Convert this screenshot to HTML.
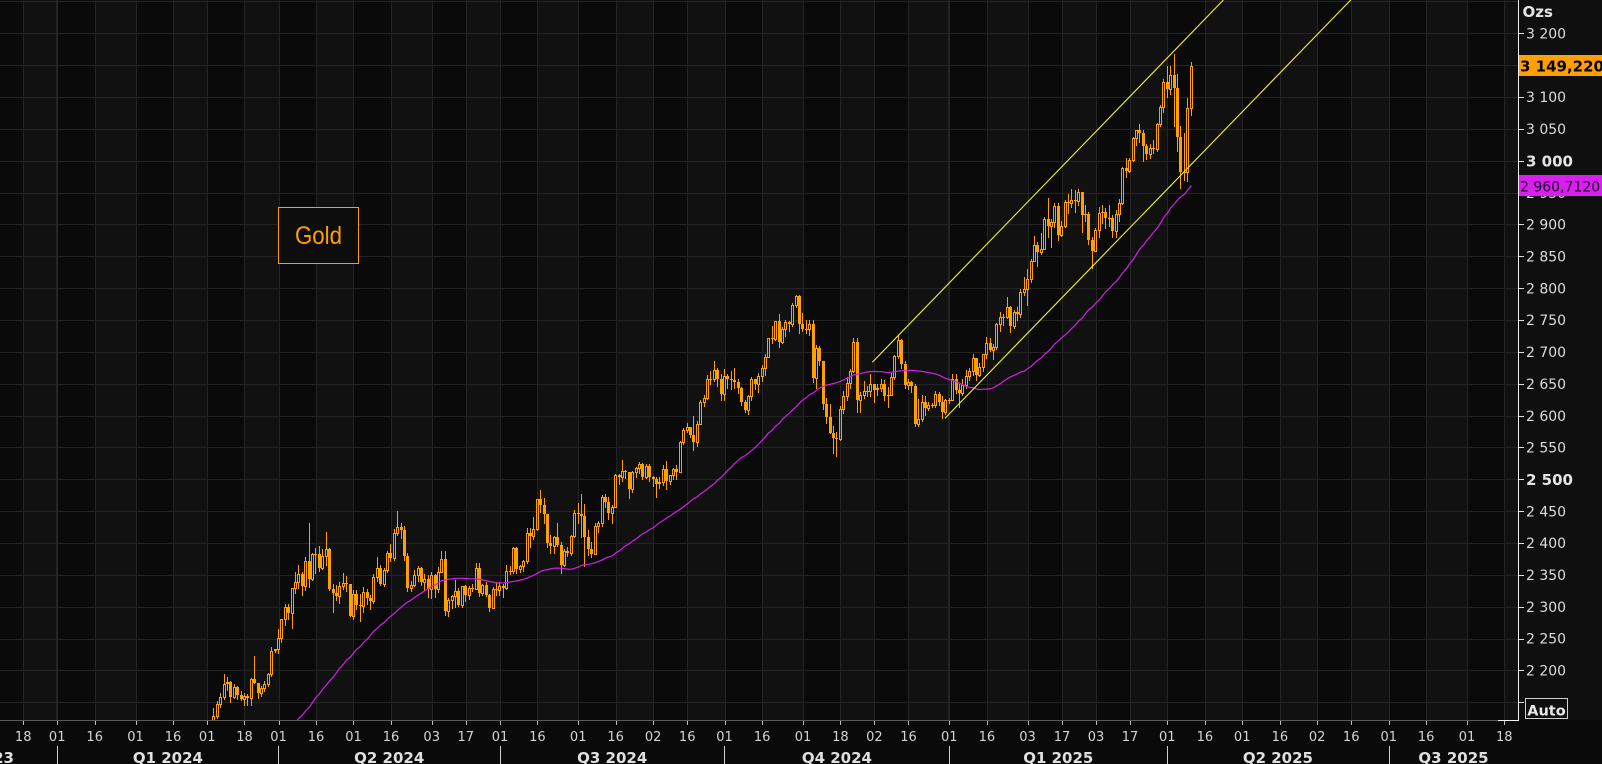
<!DOCTYPE html>
<html>
<head>
<meta charset="utf-8">
<style>
html,body{margin:0;padding:0;background:#0b0b0b;}
svg{display:block;}
.yl{font-family:"DejaVu Sans","Liberation Sans",sans-serif;font-size:14px;fill:#dcdcdc;}
.yb{font-family:"DejaVu Sans","Liberation Sans",sans-serif;font-size:15px;font-weight:bold;fill:#e4e4e4;}
.xl{font-family:"DejaVu Sans","Liberation Sans",sans-serif;font-size:13px;fill:#d4d4d4;}
.ql{font-family:"DejaVu Sans","Liberation Sans",sans-serif;font-size:15px;font-weight:bold;fill:#e0e0e0;}
</style>
</head>
<body>
<svg id="chart" width="1602" height="764" viewBox="0 0 1602 764" xmlns="http://www.w3.org/2000/svg">
<defs><clipPath id="cp"><rect x="0" y="0" width="1518" height="720"/></clipPath></defs>
<rect x="0" y="0" width="1602" height="764" fill="#0a0a0a"/>
<rect x="1519" y="0" width="83" height="720" fill="#0f0f0f"/>
<g id="bg"></g>
<g clip-path="url(#cp)"><g id="cd"></g></g>

<!-- Gold label -->
<rect x="278.5" y="207.5" width="80" height="56" fill="#0d0d0d" stroke="#ffa000" stroke-width="1"/>
<text x="318.5" y="244" text-anchor="middle" font-family="Liberation Sans, sans-serif" font-size="25" fill="#ffa000" textLength="47" lengthAdjust="spacingAndGlyphs">Gold</text>

<!-- axes -->
<line x1="0" y1="720.5" x2="1499" y2="720.5" stroke="#5a5a5a" stroke-width="1"/>
<line x1="1498" y1="720.5" x2="1519" y2="720.5" stroke="#f0f0f0" stroke-width="1"/>
<line x1="1518.5" y1="0" x2="1518.5" y2="721" stroke="#f0f0f0" stroke-width="1"/>
<g id="ticks" stroke="#e0e0e0" stroke-width="1"></g>

<!-- Y labels -->
<text class="yb" x="1522.5" y="17">Ozs</text>
<text class="yl" x="1526" y="38.5">3 200</text>
<text class="yl" x="1526" y="70.3">3 150</text>
<text class="yl" x="1526" y="102.2">3 100</text>
<text class="yl" x="1526" y="134">3 050</text>
<text class="yb" x="1526" y="166.3">3 000</text>
<text class="yl" x="1526" y="197.8">2 950</text>
<text class="yl" x="1526" y="229.6">2 900</text>
<text class="yl" x="1526" y="261.5">2 850</text>
<text class="yl" x="1526" y="293.3">2 800</text>
<text class="yl" x="1526" y="325.2">2 750</text>
<text class="yl" x="1526" y="357">2 700</text>
<text class="yl" x="1526" y="388.9">2 650</text>
<text class="yl" x="1526" y="420.8">2 600</text>
<text class="yl" x="1526" y="452.6">2 550</text>
<text class="yb" x="1526" y="484.9">2 500</text>
<text class="yl" x="1526" y="516.3">2 450</text>
<text class="yl" x="1526" y="548.2">2 400</text>
<text class="yl" x="1526" y="580">2 350</text>
<text class="yl" x="1526" y="611.9">2 300</text>
<text class="yl" x="1526" y="643.7">2 250</text>
<text class="yl" x="1526" y="675.6">2 200</text>

<!-- price boxes -->
<rect x="1519" y="55" width="83" height="21" fill="#ffa000"/>
<text x="1520" y="71.5" font-family="DejaVu Sans, Liberation Sans, sans-serif" font-size="15" font-weight="bold" fill="#000">3 149,220</text>
<rect x="1519" y="175" width="83" height="21" fill="#d81ff0"/>
<text x="1520" y="191.3" font-family="DejaVu Sans, Liberation Sans, sans-serif" font-size="14" fill="#1a0020">2 960,7120</text>

<!-- Auto -->
<rect x="1525.5" y="698.5" width="42" height="20" fill="none" stroke="#d0d0d0" stroke-width="1"/>
<text x="1546.5" y="715.5" text-anchor="middle" font-family="DejaVu Sans, Liberation Sans, sans-serif" font-size="14.5" font-weight="bold" fill="#e8e8e8">Auto</text>

<!-- X tick labels -->
<g text-anchor="middle">
<text class="xl" x="23.2" y="741">18</text>
<text class="xl" x="57.2" y="741">01</text>
<text class="xl" x="94.7" y="741">16</text>
<text class="xl" x="135.5" y="741">01</text>
<text class="xl" x="173" y="741">16</text>
<text class="xl" x="207.2" y="741">01</text>
<text class="xl" x="244.5" y="741">18</text>
<text class="xl" x="278.5" y="741">01</text>
<text class="xl" x="316" y="741">16</text>
<text class="xl" x="353.5" y="741">01</text>
<text class="xl" x="391" y="741">16</text>
<text class="xl" x="431.7" y="741">03</text>
<text class="xl" x="465.8" y="741">17</text>
<text class="xl" x="500" y="741">01</text>
<text class="xl" x="537.4" y="741">16</text>
<text class="xl" x="578.2" y="741">01</text>
<text class="xl" x="615.6" y="741">16</text>
<text class="xl" x="653.1" y="741">02</text>
<text class="xl" x="687.2" y="741">16</text>
<text class="xl" x="724.5" y="741">01</text>
<text class="xl" x="762.1" y="741">16</text>
<text class="xl" x="803" y="741">01</text>
<text class="xl" x="840.4" y="741">18</text>
<text class="xl" x="874.4" y="741">02</text>
<text class="xl" x="908.5" y="741">16</text>
<text class="xl" x="949.3" y="741">01</text>
<text class="xl" x="986.9" y="741">16</text>
<text class="xl" x="1027.5" y="741">03</text>
<text class="xl" x="1062" y="741">17</text>
<text class="xl" x="1096" y="741">03</text>
<text class="xl" x="1130" y="741">17</text>
<text class="xl" x="1167.3" y="741">01</text>
<text class="xl" x="1204.9" y="741">16</text>
<text class="xl" x="1242.2" y="741">01</text>
<text class="xl" x="1279.9" y="741">16</text>
<text class="xl" x="1317.1" y="741">02</text>
<text class="xl" x="1351.2" y="741">16</text>
<text class="xl" x="1388.8" y="741">01</text>
<text class="xl" x="1426.1" y="741">16</text>
<text class="xl" x="1467" y="741">01</text>
<text class="xl" x="1504.3" y="741">18</text>
</g>

<!-- quarter labels -->
<text class="ql" x="14" y="763" text-anchor="end">Q4 2023</text>
<text class="ql" x="167.9" y="763" text-anchor="middle">Q1 2024</text>
<text class="ql" x="389.2" y="763" text-anchor="middle">Q2 2024</text>
<text class="ql" x="612.2" y="763" text-anchor="middle">Q3 2024</text>
<text class="ql" x="836.9" y="763" text-anchor="middle">Q4 2024</text>
<text class="ql" x="1058.3" y="763" text-anchor="middle">Q1 2025</text>
<text class="ql" x="1277.9" y="763" text-anchor="middle">Q2 2025</text>
<text class="ql" x="1453.5" y="763" text-anchor="middle">Q3 2025</text>
<g stroke="#cfcfcf" stroke-width="1">
<line x1="57.5" y1="746" x2="57.5" y2="764"/>
<line x1="278.5" y1="746" x2="278.5" y2="764"/>
<line x1="500.5" y1="746" x2="500.5" y2="764"/>
<line x1="724.5" y1="746" x2="724.5" y2="764"/>
<line x1="949.5" y1="746" x2="949.5" y2="764"/>
<line x1="1167.5" y1="746" x2="1167.5" y2="764"/>
<line x1="1389.5" y1="746" x2="1389.5" y2="764"/>
</g>
</svg>

<script>
(function(){
var DATA = "2063 2059 2042 2043 2045 2027 2030 2024 2029 2049 2055 2028 2006 2023 2029 2021 2029 2014 2021 2018 2032 2037 2039 " +
"2054 2039 2025 2035 2035 2034 2024 2020 1992 1992 2004 2013 2017 2024 2025 2024 2035 2031 2029 2034 2044 " +
"2083/2088/2043 2114/2119/2079 2128/2141/2109 2148/2152/2126 2159/2165/2142 2179/2195/2155 2182/2189/2170 2158/2184/2150 2174/2178/2156 2162/2175/2155 2155/2167/2153 2160/2165/2146 2157/2163/2145 2186/2188/2146 2181/2222/2180 2165/2180/2156 2172/2176/2160 2179/2184/2168 2194/2196/2176 2230/2236/2191 2233/2234/2229 " +
"2251/2265/2228 2280/2281/2244 2300/2305/2272 2290/2305/2281 2329/2330/2267 2339/2354/2322 2352/2365/2330 2333/2355/2319 2372/2378/2326 2344/2431/2331 2383/2384/2342 2383/2392/2353 2361/2395/2356 2379/2390/2359 2391/2417/2365 2327/2392/2326 2322/2335/2292 2316/2334/2310 2332/2339/2306 2337/2353/2327 2335/2348/2324 2286/2336/2285 " +
"2320/2326/2280 2303/2326/2297 2301/2320/2277 2323/2331/2292 2314/2327/2305 2309/2319/2297 2346/2351/2306 2360/2378/2341 2336/2365/2334 2358/2361/2332 2385/2387/2354 2376/2398/2371 2415/2422/2373 2425/2450/2413 2421/2431/2408 2379/2426/2374 2329/2384/2325 2334/2341/2325 2350/2357/2332 2360/2364/2341 2338/2362/2334 2343/2351/2326 2327/2349/2315 " +
"2350/2354/2314 2327/2351/2315 2355/2362/2323 2375/2388/2355 2294/2387/2287 2311/2314/2286 2316/2318/2298 2325/2342/2300 2303/2329/2301 2333/2333/2299 2319/2334/2309 2329/2332/2312 2328/2336/2325 2360/2368/2327 2322/2369/2317 2334/2335/2318 2319/2338/2316 2298/2320/2293 2327/2331/2298 2326/2338/2318 " +
"2332/2339/2319 2330/2336/2315 2356/2365/2327 2356/2364/2351 2392/2393/2353 2359/2393/2353 2364/2366/2355 2371/2374/2356 2415/2424/2369 2411/2424/2393 2422/2440/2406 2469/2469/2421 2459/2483/2449 2445/2470/2432 2400/2445/2393 2396/2412/2384 2409/2411/2385 2397/2431/2396 2365/2402/2353 2387/2391/2364 2384/2393/2379 2411/2413/2381 2447/2451/2409 " +
"2446/2462/2432 2443/2477/2410 2410/2461/2364 2390/2420/2381 2382/2401/2378 2427/2431/2382 2431/2435/2417 2472/2475/2427 2465/2477/2456 2447/2472/2438 2456/2459/2432 2507/2509/2456 2504/2508/2493 2513/2531/2497 2512/2515/2502 2484/2509/2471 2512/2513/2480 2518/2520/2504 2524/2527/2510 2504/2525/2500 2521/2524/2502 2503/2524/2497 " +
"2500/2505/2490 2493/2503/2472 2495/2504/2487 2516/2523/2491 2497/2529/2485 2506/2507/2493 2516/2518/2500 2512/2522/2500 2558/2560/2511 2578/2581/2555 2582/2589/2574 2569/2582/2566 2559/2600/2546 2587/2592/2552 2622/2625/2586 2628/2632/2615 2657/2664/2626 2657/2670/2649 2672/2685/2654 2658/2674/2646 2634/2665/2624 " +
"2662/2673/2625 2657/2665/2643 2656/2670/2641 2653/2674/2643 2644/2657/2636 2622/2645/2616 2608/2625/2605 2630/2633/2603 2657/2661/2625 2649/2657/2641 2662/2667/2637 2674/2679/2654 2692/2696/2664 2721/2722/2692 2720/2740/2714 2748/2749/2718 2715/2759/2708 2736/2739/2714 2747/2750/2725 2743/2749/2732 2774/2776/2740 2788/2790/2770 2744/2790/2730 " +
"2736/2761/2733 2736/2750/2730 2743/2750/2726 2659/2750/2653 2706/2710/2644 2685/2709/2680 2618/2685/2610 2598/2627/2589 2573/2618/2572 2565/2584/2541 2563/2574/2537 2611/2615/2562 2631/2639/2604 2651/2660/2625 2670/2673/2643 2716/2721/2668 2625/2721/2605 2633/2637/2605 2638/2655/2628 2638/2647/2631 2650/2666/2630 " +
"2640/2650/2622 2643/2649/2632 2650/2657/2639 2631/2656/2625 2633/2645/2614 2660/2667/2632 2694/2695/2658 2718/2726/2691 2681/2720/2675 2648/2685/2643 2652/2658/2642 2646/2654/2637 2586/2650/2583 2594/2626/2584 2622/2632/2591 2612/2630/2601 2617/2621/2609 2617/2620/2614 2634/2638/2614 2621/2637/2616 2606/2630/2596 2625/2626/2603 " +
"2625/2628/2620 2658/2665/2624 2640/2665/2635 2635/2649/2614 2648/2657/2633 2662/2671/2644 2670/2675/2656 2690/2697/2664 2663/2691/2656 2677/2682/2662 2697/2697/2670 2714/2724/2691 2703/2722/2701 2708/2713/2689 2743/2746/2705 2755/2763/2733 2755/2759/2742 2770/2786/2753 2740/2772/2731 2763/2765/2738 2760/2770/2750 2794/2799/2755 2798/2817/2790 " +
"2815/2830/2773 2843/2845/2809 2867/2882/2842 2856/2873/2834 2861/2886/2854 2908/2911/2861 2898/2942/2880 2904/2908/2865 2929/2934/2896 2883/2933/2876 2898/2905/2882 2935/2938/2896 2933/2947/2918 2939/2955/2927 2936/2954/2919 2951/2956/2930 2915/2950/2888 2917/2930/2906 2876/2919/2870 2858/2880/2832 " +
"2892/2894/2858 2918/2928/2880 2920/2930/2903 2910/2926/2894 2910/2930/2897 2889/2915/2880 2916/2923/2880 2934/2940/2905 2988/2990/2932 2984/3005/2975 3001/3004/2982 3035/3038/3000 3048/3048/3024 3044/3057/3029 3023/3048/2999 3011/3026/3003 3020/3026/3005 3019/3033/3012 3057/3059/3016 3084/3087/3055 3124/3128/3076 " +
"3113/3149/3100 3134/3149/3105 3114/3167/3054 3037/3136/3015 2982/3055/2957 2983/3044/2970 3082/3099/2968 3149/3155/3072";

var tok = DATA.trim().split(/\s+/);
var O=[],H=[],L=[],C=[];
var prev = 2068;
for (var i=0;i<tok.length;i++){
  var p = tok[i].split('/').map(Number);
  var c = p[0], o = prev;
  var h = p.length>1 ? p[1] : Math.max(o,c)+6;
  var l = p.length>1 ? p[2] : Math.min(o,c)-6;
  h = Math.max(h,o,c); l = Math.min(l,o,c);
  O.push(o);H.push(h);L.push(l);C.push(c);prev=c;
}
function Y(v){return 33.3 + (3200-v)*0.6371;}
function X(i){return 57.2 + i*3.405;}

// background bands & grid
var TI=[-10,0,11,23,34,44,55,65,76,87,98,110,120,130,141,153,164,175,185,196,207,219,230,240,250,262,273,285,295,305,315,326,337,348,359,370,380,391,402,414,425];
var xs = TI.map(X);
var s = '';
s += '<rect x="0" y="0" width="'+Math.round(xs[0])+'" height="720" fill="#0a0a0a"/>';
for (var k=0;k<xs.length;k++){
  var a = Math.round(xs[k]), b = k+1<xs.length ? Math.round(xs[k+1]) : 1518;
  s += '<rect x="'+a+'" y="0" width="'+(b-a)+'" height="720" fill="'+(k%2===0?'#111111':'#0a0a0a')+'"/>';
}
for (var v=3250; v>=2150; v-=50){
  var yy = Math.round(Y(v))+0.5;
  s += '<line x1="0" y1="'+yy+'" x2="1518" y2="'+yy+'" stroke="#242424" stroke-width="1"/>';
}
for (var k=0;k<xs.length;k++){
  var xx = Math.round(xs[k]);
  var w = (TI[k]===0||TI[k]===262)?2:1;
  s += '<line x1="'+(xx+(w===1?0.5:0))+'" y1="0" x2="'+(xx+(w===1?0.5:0))+'" y2="720" stroke="#242424" stroke-width="'+w+'"/>';
}
document.getElementById('bg').innerHTML = s;

// axis ticks
var t='';
for (var k=0;k<xs.length;k++){
  var xx = Math.round(xs[k])+0.5;
  t += '<line x1="'+xx+'" y1="721" x2="'+xx+'" y2="725" stroke="#bdbdbd"/>';
}
for (var v=3200; v>=2150; v-=50){
  var yy = Math.round(Y(v))+0.5;
  t += '<line x1="1519" y1="'+yy+'" x2="1524" y2="'+yy+'"/>';
}
document.getElementById('ticks').innerHTML = t;

// candles
var col = '#ffa000';
var g = '';
for (var i=0;i<C.length;i++){
  if (H[i] < 2110) continue;
  var xc = Math.floor(X(i));
  var wx = xc+0.5;
  var yH = Math.round(Y(H[i])), yL = Math.round(Y(L[i]));
  var top = Math.round(Y(Math.max(O[i],C[i]))), bot = Math.round(Y(Math.min(O[i],C[i])));
  var up = C[i] >= O[i];
  if (!up || bot-top < 3){
    g += '<line x1="'+wx+'" y1="'+yH+'" x2="'+wx+'" y2="'+(yL+1)+'" stroke="'+col+'"/>';
    g += '<rect x="'+(xc-1)+'" y="'+top+'" width="3" height="'+Math.max(1,bot-top)+'" fill="'+col+'"/>';
  } else {
    if (top>yH) g += '<line x1="'+wx+'" y1="'+yH+'" x2="'+wx+'" y2="'+top+'" stroke="'+col+'"/>';
    if (yL>bot) g += '<line x1="'+wx+'" y1="'+bot+'" x2="'+wx+'" y2="'+(yL+1)+'" stroke="'+col+'"/>';
    g += '<rect x="'+(xc-0.5)+'" y="'+(top+0.5)+'" width="2" height="'+(bot-top)+'" fill="none" stroke="'+col+'" stroke-width="1"/>';
  }
}
// 50-day SMA
var pts=[];
for (var i=49;i<C.length;i++){
  var sum=0; for (var j=i-49;j<=i;j++) sum+=C[j];
  var m = sum/50;
  pts.push((Math.floor(X(i))+0.5).toFixed(1)+','+Y(m).toFixed(1));
}
g += '<polyline points="'+pts.join(' ')+'" fill="none" stroke="#d21fea" stroke-width="1.2"/>';
// channel lines
g += '<line x1="872.3" y1="362.3" x2="1223.4" y2="0" stroke="#f2f23a" stroke-width="1.1"/>';
g += '<line x1="945" y1="418.3" x2="1350.7" y2="0" stroke="#f2f23a" stroke-width="1.1"/>';
document.getElementById('cd').innerHTML = g;
})();
</script>
</body>
</html>
